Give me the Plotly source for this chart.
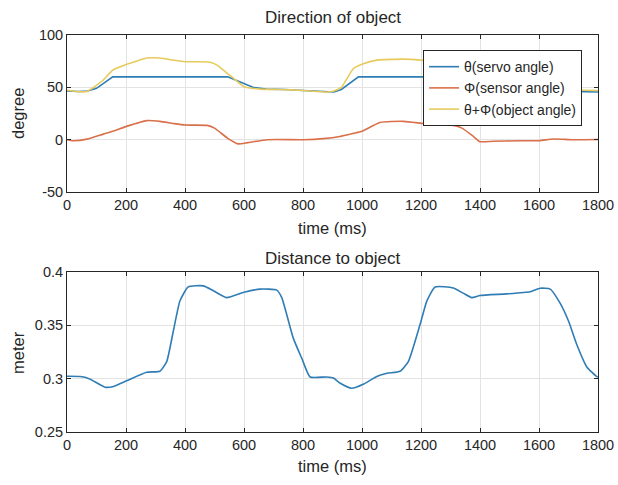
import plotly.graph_objects as go
from plotly.subplots import make_subplots

# --- servo angle theta (degree) ---
t_servo = [0, 40, 70, 100, 125, 155, 545, 570, 600, 630, 675, 740, 800, 880, 905,
           930, 960, 988, 1390, 1410, 1440, 1480, 1550, 1700, 1800]
servo = [46.5, 46, 46.5, 49, 54, 60, 60, 57, 53, 50, 48.3, 48, 47, 45.5, 45.5,
         48, 54, 60, 60, 56, 51, 48, 47, 46.5, 45.5]

# --- sensor angle phi (degree) ---
t_sensor = [0, 20, 68, 123, 155, 202, 270, 315, 360, 400, 475, 500, 545, 580, 612,
            680, 800, 870, 925, 971, 1000, 1061, 1140, 1197, 1243, 1310, 1339, 1378,
            1400, 1445, 1535, 1600, 1648, 1715, 1800]
sensor = [0, -1, 0.5, 5.3, 8, 12.7, 18.2, 17.5, 15.5, 14, 13.7, 11, 1.3, -4, -2.8,
          0, 0, 1, 3, 6, 8, 16.5, 17.5, 15.8, 14.2, 13.7, 11, 3,
          -1.9, -1.5, -1, -1, 0.7, 0, 0.2]

# --- object angle theta+phi (degree) ---
t_object = [0, 30, 68, 95, 123, 155, 202, 240, 270, 315, 360, 400, 485, 510, 530,
            563, 600, 655, 720, 800, 880, 905, 930, 971, 1000, 1050, 1140, 1200,
            1250, 1330, 1360, 1390, 1420, 1450, 1500, 1600, 1700, 1800]
obj = [47.5, 46, 46, 51, 57, 66.5, 72, 75.5, 78, 78, 76, 74.5, 74, 71, 66.5,
       59, 50.6, 48.3, 48, 47, 45.5, 46.5, 50, 68, 72, 76, 77, 76,
       74.5, 73.5, 68, 60, 52, 48, 47.5, 47.5, 47.5, 47]

# --- distance to object (meter) ---
t_dist = [0, 45, 75, 129, 155, 202, 270, 315, 338, 360, 383, 411, 462, 496, 541,
          600, 655, 711, 728, 767, 796, 824, 880, 903, 925, 965, 1006, 1050, 1085,
          1129, 1157, 1197, 1220, 1248, 1310, 1344, 1372, 1400, 1490, 1570, 1604,
          1638, 1671, 1700, 1728, 1762, 1796, 1800]
dist = [0.3022, 0.302, 0.300, 0.292, 0.2925, 0.298, 0.306, 0.307, 0.316, 0.344,
        0.373, 0.386, 0.387, 0.3825, 0.376, 0.381, 0.384, 0.383, 0.376, 0.338,
        0.319, 0.3016, 0.3016, 0.3006, 0.296, 0.291, 0.295, 0.302, 0.305, 0.307,
        0.316, 0.351, 0.373, 0.386, 0.385, 0.380, 0.376, 0.378, 0.3795, 0.3815,
        0.3848, 0.384, 0.371, 0.354, 0.332, 0.311, 0.302, 0.3015]

x_ticks = [0, 200, 400, 600, 800, 1000, 1200, 1400, 1600, 1800]
deg_ticks = [-50, 0, 50, 100]
deg_labels = ["-50", "0", "50", "100"]
m_ticks = [0.25, 0.3, 0.35, 0.4]
m_labels = ["0.25", "0.3", "0.35", "0.4"]

BLUE = "#2f7db5"
RED = "#d9704a"
YELLOW = "#e6cb5c"
INK = "#262626"
FONT = "Liberation Sans, Arial, sans-serif"

fig = make_subplots(rows=2, cols=1)

smooth = dict(width=1.6, shape="spline", smoothing=0.5)
sharp = dict(width=1.6, shape="linear")
fig.add_trace(go.Scatter(x=t_servo, y=servo, mode="lines", name="θ(servo angle)",
                         line=dict(color=BLUE, **sharp)), row=1, col=1)
fig.add_trace(go.Scatter(x=t_sensor, y=sensor, mode="lines", name="Φ(sensor angle)",
                         line=dict(color=RED, **smooth)), row=1, col=1)
fig.add_trace(go.Scatter(x=t_object, y=obj, mode="lines", name="θ+Φ(object angle)",
                         line=dict(color=YELLOW, **smooth)), row=1, col=1)
fig.add_trace(go.Scatter(x=t_dist, y=dist, mode="lines", showlegend=False,
                         line=dict(color=BLUE, **smooth)), row=2, col=1)

axis_common = dict(
    showline=True, linecolor=INK, linewidth=1, mirror="ticks",
    ticks="inside", ticklen=4, tickcolor=INK, automargin=False,
    showgrid=True, gridcolor="#e3e3e3", gridwidth=1, zeroline=False,
    tickfont=dict(family=FONT, size=14.5, color=INK),
)

fig.update_xaxes(**axis_common, range=[0, 1800], tickvals=x_ticks)
fig.update_yaxes(**axis_common)
fig.update_yaxes(range=[-50, 100], tickvals=deg_ticks, ticktext=deg_labels, row=1, col=1)
fig.update_yaxes(range=[0.25, 0.4], tickvals=m_ticks, ticktext=m_labels, row=2, col=1)


def label(text, x, y, angle=0, size=16.5):
    return dict(text=text, x=x, y=y, xref="paper", yref="paper", showarrow=False,
                textangle=angle, xanchor="center", yanchor="middle",
                font=dict(family=FONT, size=size, color=INK))


fig.update_layout(
    width=618, height=485,
    margin=dict(l=67, r=20, t=35, b=53),
    paper_bgcolor="white", plot_bgcolor="white",
    xaxis=dict(domain=[0, 1]), xaxis2=dict(domain=[0, 1]),
    yaxis=dict(domain=[0.6045, 1.0]), yaxis2=dict(domain=[0.0, 0.403]),
    legend=dict(x=0.970, y=0.962, xanchor="right", yanchor="top",
                bgcolor="white", bordercolor=INK, borderwidth=1,
                font=dict(family=FONT, size=14, color=INK),
                tracegroupgap=0, itemwidth=30),
    annotations=[
        label("Direction of object", 0.5, 1.043, size=17),
        label("Distance to object", 0.5, 0.438, size=17),
        label("time (ms)", 0.5, 0.514),
        label("time (ms)", 0.5, -0.0856),
        label("degree", -0.0923, 0.8035, angle=-90),
        label("meter", -0.0923, 0.2015, angle=-90),
    ],
)

fig.write_html("out.html")
